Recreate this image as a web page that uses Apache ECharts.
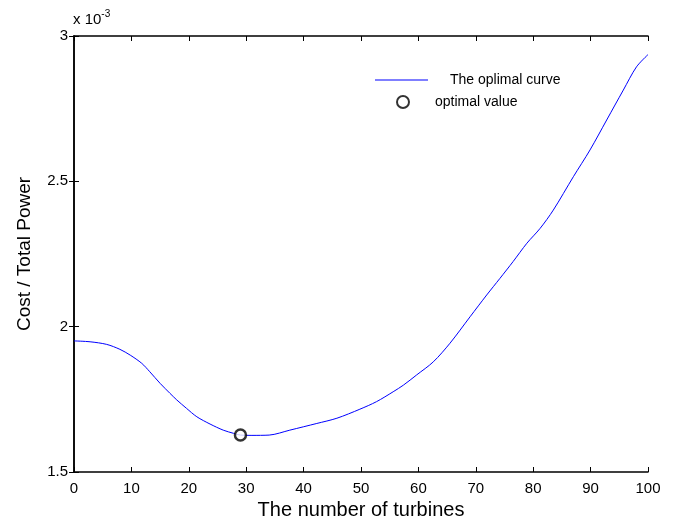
<!DOCTYPE html>
<html>
<head>
<meta charset="utf-8">
<script src="https://cdn.jsdelivr.net/npm/echarts@6/dist/echarts.min.js"></script>
<style>html,body{margin:0;padding:0;background:#fff;}#c{width:676px;height:520px;}</style>
</head>
<body>
<div id="c"></div>
<script>
// number of turbines
var turbines = [0, 2.8, 5.7, 8, 9.8, 11.8, 13.2, 15, 16.7, 17.9, 19.6, 21.4, 23.7, 26, 27.8, 29, 31, 34, 37.6, 42.3, 45.8, 49.8, 52.7, 55.6, 57.4, 59.7, 62.6, 65.5, 69, 71.9, 74.2, 76.5, 78.9, 81.2, 83.5, 87, 89.9, 92.8, 95.7, 98, 100];
// cost / total power (x 10^-3)
var costRatio = [1.951, 1.948, 1.939, 1.922, 1.902, 1.874, 1.845, 1.805, 1.771, 1.748, 1.719, 1.690, 1.665, 1.644, 1.633, 1.627, 1.626, 1.627, 1.644, 1.667, 1.685, 1.716, 1.742, 1.776, 1.799, 1.834, 1.879, 1.943, 2.034, 2.109, 2.166, 2.224, 2.287, 2.338, 2.401, 2.516, 2.608, 2.711, 2.814, 2.894, 2.936];
// optimal point
var optimalX = [29];
var optimalY = [1.627];
var xTicks = [0, 10, 20, 30, 40, 50, 60, 70, 80, 90, 100];
var yTicks = [1.5, 2, 2.5, 3];

var curve = turbines.map(function (t, i) { return [t, costRatio[i]]; });
var opt = optimalX.map(function (t, i) { return [t, optimalY[i]]; });
var font = 'Liberation Sans, Arial, sans-serif';

var chart = echarts.init(document.getElementById('c'));
chart.setOption({
  animation: false,
  backgroundColor: '#fff',
  title: {
    text: 'x 10{sup|-3}',
    left: 73, top: 9, padding: 0,
    textStyle: {
      fontFamily: font, fontSize: 15, fontWeight: 'normal', color: '#000',
      rich: { sup: { fontFamily: font, fontSize: 10, color: '#000', verticalAlign: 'top', padding: [0, 0, 12, 0] } }
    }
  },
  legend: [{
    data: [{ name: 'The oplimal curve', icon: 'rect' }],
    left: 375, top: 73, padding: 0,
    itemWidth: 53, itemHeight: 1,
    itemStyle: { color: '#0000ff' },
    textStyle: { fontFamily: font, fontSize: 14, color: '#000', padding: [0, 0, 0, 17] }
  }, {
    data: ['optimal value'],
    left: 396, top: 95, padding: 0,
    itemWidth: 12, itemHeight: 12,
    textStyle: { fontFamily: font, fontSize: 14, color: '#000', padding: [0, 0, 0, 21] }
  }],
  grid: { left: 74, right: 28, top: 36, bottom: 48, containLabel: false, outerBoundsMode: 'none' },
  xAxis: [{
    type: 'value', min: 0, max: 100, interval: 10,
    name: 'The number of turbines', nameLocation: 'middle', nameGap: 27,
    nameTextStyle: { fontFamily: font, fontSize: 20, color: '#000' },
    axisLine: { lineStyle: { color: '#000', width: 1.5 } },
    axisTick: { inside: true, length: 5, lineStyle: { color: '#000', width: 1 } },
    axisLabel: { fontFamily: font, fontSize: 15, color: '#000', margin: 9 },
    splitLine: { show: false }
  }, {
    type: 'value', min: 0, max: 100, interval: 10, position: 'top',
    axisLine: { show: true, lineStyle: { color: '#000', width: 1.5 } },
    axisTick: { show: true, inside: true, length: 5, lineStyle: { color: '#000', width: 1 } },
    axisLabel: { show: false }, splitLine: { show: false }
  }],
  yAxis: [{
    type: 'value', min: 1.5, max: 3, interval: 0.5,
    name: 'Cost / Total Power', nameLocation: 'middle', nameGap: 40,
    nameTextStyle: { fontFamily: font, fontSize: 19, color: '#000' },
    axisLine: { show: true, lineStyle: { color: '#000', width: 1.5 } },
    axisTick: { show: true, inside: true, length: 5, lineStyle: { color: '#000', width: 1 } },
    axisLabel: { fontFamily: font, fontSize: 15, color: '#000', margin: 6 },
    splitLine: { show: false }
  }, {
    type: 'value', min: 1.5, max: 3, interval: 0.5, position: 'right',
    axisLine: { show: true, lineStyle: { color: '#000', width: 1.5 } },
    axisTick: { show: true, inside: true, length: 5, lineStyle: { color: '#000', width: 1 } },
    axisLabel: { show: false }, splitLine: { show: false }
  }],
  series: [{
    name: 'The oplimal curve', type: 'line', data: curve, smooth: 0.3,
    showSymbol: false, symbol: 'none',
    lineStyle: { color: '#0000ff', width: 1 }, itemStyle: { color: '#0000ff' }
  }, {
    name: 'optimal value', type: 'scatter', data: opt,
    symbol: 'circle', symbolSize: 11,
    itemStyle: { color: '#fff', borderColor: '#000', borderWidth: 2.5 }, z: 5
  }]
});
</script>
</body>
</html>
